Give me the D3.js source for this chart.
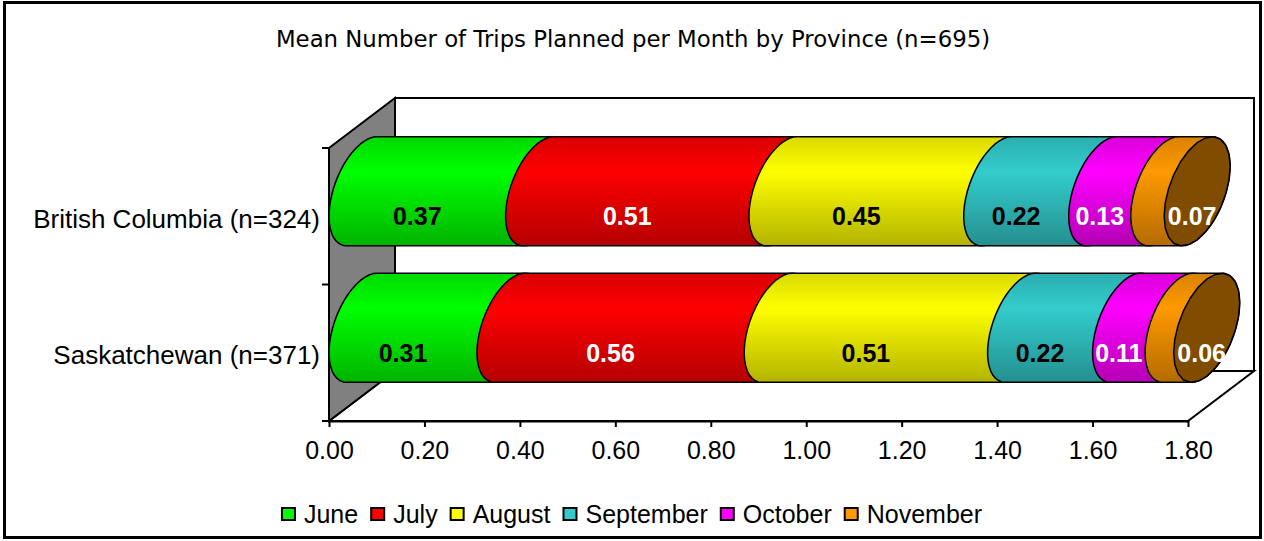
<!DOCTYPE html>
<html lang="en">
<head>
<meta charset="UTF-8">
<title>Mean Number of Trips Planned per Month by Province</title>
<script src="https://d3js.org/d3.v7.min.js"></script>
<style>
    body { margin: 0; background: #ffffff; }
    svg { display: block; }
    .tick text { fill: #000; }
</style>
</head>
<body>
<div id="chart"></div>
<script>
    // chart data
    const provinces = ["British Columbia (n=324)", "Saskatchewan (n=371)"];
    const months = ["June", "July", "August", "September", "October", "November"];
    const monthColors = ["#00FF00", "#FF0000", "#FFFF00", "#33CCCC", "#FF00FF", "#FF9900"];
    const labelColors = ["#000", "#fff", "#000", "#000", "#fff", "#fff"];
    const bcValues = [0.37, 0.51, 0.45, 0.22, 0.13, 0.07];
    const skValues = [0.31, 0.56, 0.51, 0.22, 0.11, 0.06];
    const xTicks = [0, 0.2, 0.4, 0.6, 0.8, 1.0, 1.2, 1.4, 1.6, 1.8];
    const title = "Mean Number of Trips Planned per Month by Province (n=695)";

    const W = 1264, H = 541;
    const front = { left: 329, right: 1188, top: 148, bottom: 421 };
    const depth = { dx: 66, dy: -50 };   // oblique 3d offset of the back wall
    const font = "'Liberation Sans', Arial, sans-serif";

    const svg = d3.select("#chart").append("svg")
        .attr("width", W).attr("height", H);

    const x = d3.scaleLinear().domain([0, 1.8]).range([front.left, front.right]);
    const y = d3.scaleBand().domain(provinces).range([front.top, front.bottom]);

    // outer frame
    svg.append("rect")
        .attr("x", 4.5).attr("y", 2.5)
        .attr("width", 1256).attr("height", 535)
        .attr("fill", "#fff").attr("stroke", "#000").attr("stroke-width", 3);

    // title
    svg.append("text")
        .attr("x", 633).attr("y", 47)
        .attr("text-anchor", "middle")
        .style("font-family", "'DejaVu Sans', sans-serif")
        .style("font-size", "22.8px")
        .text(title);

    // back wall, floor and left wall
    const bx = front.left + depth.dx, by = front.top + depth.dy;
    svg.append("rect")
        .attr("x", bx).attr("y", by)
        .attr("width", front.right - front.left)
        .attr("height", front.bottom - front.top)
        .attr("fill", "#fff").attr("stroke", "#000").attr("stroke-width", 2);

    const poly = pts => "M" + pts.map(p => p.join(",")).join("L") + "Z";
    svg.append("path")
        .attr("d", poly([[front.left, front.bottom], [bx, front.bottom + depth.dy],
            [front.right + depth.dx, front.bottom + depth.dy], [front.right, front.bottom]]))
        .attr("fill", "#fff").attr("stroke", "#000").attr("stroke-width", 2);
    svg.append("path")
        .attr("d", poly([[front.left, front.top], [bx, by],
            [bx, front.bottom + depth.dy], [front.left, front.bottom]]))
        .attr("fill", "#808080").attr("stroke", "#000").attr("stroke-width", 2);

    // x axis
    const xAxis = svg.append("g")
        .attr("transform", `translate(0,${front.bottom})`)
        .call(d3.axisBottom(x).tickValues(xTicks).tickFormat(d3.format(".2f"))
            .tickSize(6).tickSizeOuter(0).tickPadding(14));
    xAxis.select(".domain").attr("stroke-width", 2);
    xAxis.selectAll(".tick line").attr("stroke-width", 2);
    xAxis.selectAll("text")
        .style("font-family", font)
        .style("font-size", "25px");

    // y axis: labels at band centres, ticks between categories
    const yAxis = svg.append("g")
        .attr("transform", `translate(${front.left},0)`)
        .call(d3.axisLeft(y).tickSize(0).tickPadding(9));
    yAxis.select(".domain").remove();
    yAxis.selectAll("text")
        .attr("dy", "0.45em")
        .style("font-family", font)
        .style("font-size", "26px");
    const yBounds = provinces.map(p => y(p)).concat([front.bottom]);
    svg.append("g").selectAll("line")
        .data(yBounds).join("line")
        .attr("x1", front.left - 7).attr("x2", front.left)
        .attr("y1", d => d).attr("y2", d => d)
        .attr("stroke", "#000").attr("stroke-width", 2);
    svg.append("line")
        .attr("x1", front.left).attr("x2", front.left)
        .attr("y1", front.top).attr("y2", front.bottom)
        .attr("stroke", "#000").attr("stroke-width", 2);

    // gradients for the cylinders
    const defs = svg.append("defs");
    monthColors.forEach((c, i) => {
        const g = defs.append("linearGradient")
            .attr("id", "grad" + i)
            .attr("x1", 0).attr("y1", 0).attr("x2", 0).attr("y2", 1);
        g.append("stop").attr("offset", "0%").attr("stop-color", d3.rgb(c).darker(0.45));
        g.append("stop").attr("offset", "32%").attr("stop-color", c);
        g.append("stop").attr("offset", "100%").attr("stop-color", d3.rgb(c).darker(1.0));
    });

    // cylinder geometry (ellipse end caps in oblique projection)
    const ax = depth.dx / 2, bz = -depth.dy / 2;     // half depth in screen x / y
    const halfH = y.bandwidth() * 0.4;               // visible half height of bar
    const rad = Math.sqrt(halfH * halfH - bz * bz);
    const thTop = Math.atan2(rad, bz);
    const capPt = (X, Yc, th) => [X + ax * Math.cos(th), Yc - rad * Math.sin(th) - bz * Math.cos(th)];
    const arc = (X, Yc, t0, t1) => d3.range(25).map(k => capPt(X, Yc, t0 + (t1 - t0) * k / 24));
    const line = d3.line();

    const rows = [bcValues, skValues];
    rows.forEach((vals, ri) => {
        const yc = y(provinces[ri]) + y.bandwidth() / 2;   // front centre
        const Yc = yc + depth.dy / 2;                        // cylinder axis at mid depth
        const ends = d3.cumsum(vals);
        const g = svg.append("g");
        vals.forEach((v, i) => {
            const X0 = x(ends[i] - v) + depth.dx / 2;
            const X1 = x(ends[i]) + depth.dx / 2;
            const pts = [].concat(
                arc(X1, Yc, thTop, thTop - Math.PI),
                arc(X0, Yc, thTop + Math.PI, thTop)
            );
            g.append("path")
                .attr("d", line(pts) + "Z")
                .attr("fill", `url(#grad${i})`)
                .attr("stroke", "#000").attr("stroke-width", 1.5)
                .attr("stroke-linejoin", "round");
            if (i === vals.length - 1) {
                g.append("path")
                    .attr("d", line(arc(X1, Yc, 0, 2 * Math.PI)) + "Z")
                    .attr("fill", d3.rgb(monthColors[i]).darker(1.95))
                    .attr("stroke", "#000").attr("stroke-width", 1.5);
            }
        });
        // value labels
        vals.forEach((v, i) => {
            const last = i === vals.length - 1;
            const lx = last ? x(ends[i]) + 28 : x(ends[i] - v / 2);
            g.append("text")
                .attr("x", lx).attr("y", yc + 9)
                .attr("text-anchor", "middle")
                .style("font-family", font)
                .style("font-weight", "bold")
                .style("font-size", "25px")
                .attr("fill", labelColors[i])
                .text(v.toFixed(2));
        });
    });

    // legend
    const legend = svg.append("g").attr("transform", "translate(0,523)");
    let lx = 0;
    months.forEach((m, i) => {
        const it = legend.append("g").attr("transform", `translate(${lx},0)`);
        it.append("rect")
            .attr("x", 0).attr("y", -15).attr("width", 13).attr("height", 12)
            .attr("fill", monthColors[i]).attr("stroke", "#000").attr("stroke-width", 2);
        const t = it.append("text")
            .attr("x", 22).attr("y", 0)
            .style("font-family", font)
            .style("font-size", "25px")
            .text(m);
        lx += 22 + t.node().getComputedTextLength() + 13;
    });
    const legendW = lx - 13;
    legend.attr("transform", `translate(${632 - legendW / 2},523)`);
</script>
</body>
</html>
